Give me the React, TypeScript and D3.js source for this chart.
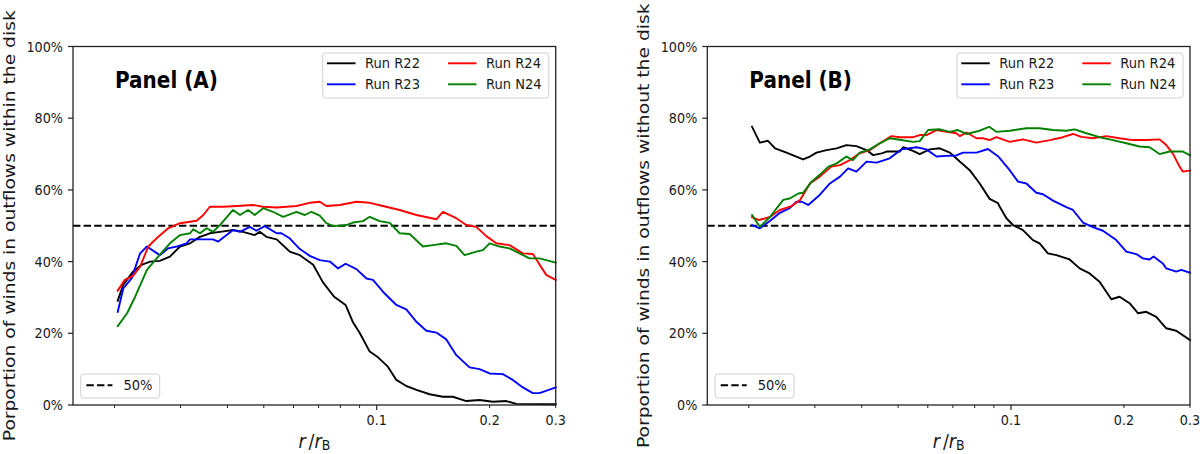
import React from 'react';
import * as d3 from 'd3';

// ---- data: share of winds in outflows, % vs r / r_B ----
const withinR22: [number, number][] = [[0.0204,29.1],[0.0211,33.5],[0.0224,37.2],[0.0236,39.1],[0.0249,40.0],[0.0264,40.2],[0.0281,41.4],[0.0299,44.2],[0.0318,45.1],[0.0338,46.9],[0.0359,47.9],[0.0382,48.3],[0.0414,48.8],[0.0440,48.3],[0.0473,47.4],[0.0488,48.3],[0.0508,46.9],[0.0541,46.2],[0.0586,42.8],[0.0624,41.8],[0.0677,39.1],[0.0719,34.2],[0.0770,30.2],[0.0826,27.9],[0.0865,23.0],[0.0901,20.1],[0.0958,14.9],[0.1008,13.3],[0.1071,10.7],[0.1128,7.0],[0.1199,5.3],[0.1276,4.2],[0.1384,3.0],[0.1501,2.3],[0.1596,2.3],[0.1733,1.1],[0.1880,1.4],[0.2040,0.9],[0.2215,1.1],[0.2355,0.3],[0.3,0.2]];
const withinR23: [number, number][] = [[0.0204,26.0],[0.0211,32.5],[0.0222,35.3],[0.0234,42.3],[0.0244,44.2],[0.0264,41.8],[0.0278,43.7],[0.0293,44.2],[0.0311,45.1],[0.0318,46.2],[0.0366,46.2],[0.0378,45.6],[0.0414,48.8],[0.0432,48.3],[0.0459,49.7],[0.0478,48.6],[0.0503,49.9],[0.0541,47.9],[0.0557,47.9],[0.0586,46.5],[0.0624,43.5],[0.0663,41.6],[0.0705,40.4],[0.0750,40.0],[0.0789,38.1],[0.0826,39.4],[0.0883,37.9],[0.0939,35.3],[0.0977,34.9],[0.1039,31.6],[0.1128,27.9],[0.1199,26.7],[0.1276,23.2],[0.1356,20.7],[0.1442,20.2],[0.1533,18.3],[0.1630,13.9],[0.1768,10.5],[0.1880,10.0],[0.1999,8.8],[0.2169,8.6],[0.2306,7.0],[0.2452,4.9],[0.2607,3.3],[0.2716,3.3],[0.3,4.9]];
const withinR24: [number, number][] = [[0.0204,31.9],[0.0213,34.9],[0.0224,36.0],[0.0234,38.6],[0.0246,44.2],[0.0259,46.5],[0.0278,49.3],[0.0299,50.7],[0.0331,51.4],[0.0345,53.0],[0.0359,55.3],[0.0390,55.3],[0.0423,55.5],[0.0468,55.8],[0.0498,55.3],[0.0541,55.1],[0.0611,55.5],[0.0663,56.4],[0.0705,56.7],[0.0734,55.5],[0.0797,55.8],[0.0883,56.7],[0.0958,56.4],[0.1039,55.5],[0.1151,54.4],[0.1276,53.0],[0.1442,51.8],[0.1501,53.9],[0.1630,52.1],[0.1733,50.2],[0.1843,49.7],[0.1959,47.1],[0.2083,45.1],[0.2260,44.6],[0.2452,42.3],[0.2607,42.1],[0.2830,36.3],[0.3,34.9]];
const withinN24: [number, number][] = [[0.0204,22.0],[0.0216,25.6],[0.0227,30.2],[0.0244,37.7],[0.0259,40.9],[0.0281,45.1],[0.0299,47.4],[0.0318,47.9],[0.0324,49.0],[0.0338,47.9],[0.0352,49.3],[0.0366,48.3],[0.0382,50.2],[0.0414,54.4],[0.0432,53.0],[0.0454,54.4],[0.0473,53.0],[0.0498,54.9],[0.0529,53.9],[0.0563,52.5],[0.0611,53.9],[0.0643,53.0],[0.0670,53.9],[0.0705,52.8],[0.0734,50.7],[0.0765,49.9],[0.0830,50.2],[0.0865,50.9],[0.0919,51.3],[0.0958,52.5],[0.1018,51.3],[0.1083,50.8],[0.1151,47.9],[0.1224,47.7],[0.1328,44.2],[0.1412,44.6],[0.1533,45.1],[0.1630,44.4],[0.1715,41.8],[0.1843,42.8],[0.1919,43.2],[0.1999,45.1],[0.2126,44.2],[0.2260,43.7],[0.2403,42.3],[0.2555,40.9],[0.2716,40.9],[0.3,39.7]];

const withoutR22: [number, number][] = [[0.0204,77.6],[0.0214,73.2],[0.0225,73.7],[0.0235,71.6],[0.0252,70.4],[0.0279,68.5],[0.0291,69.3],[0.0303,70.4],[0.0322,71.1],[0.0343,71.6],[0.0364,72.5],[0.0387,72.2],[0.0412,71.1],[0.0429,69.7],[0.0452,70.2],[0.0466,70.7],[0.0505,70.7],[0.0516,71.9],[0.0548,70.9],[0.0571,70.0],[0.0607,71.3],[0.0646,71.6],[0.0687,70.4],[0.0730,67.9],[0.0776,65.5],[0.0825,61.8],[0.0877,57.5],[0.0923,56.3],[0.0933,55.3],[0.0972,52.1],[0.1012,50.2],[0.1076,48.8],[0.1144,46.0],[0.1192,45.1],[0.1254,42.3],[0.1321,41.8],[0.1433,40.6],[0.1524,38.1],[0.1620,36.7],[0.1722,34.4],[0.1851,29.5],[0.1947,30.2],[0.2070,28.4],[0.2179,25.6],[0.2294,26.0],[0.2439,24.6],[0.2593,21.4],[0.2757,20.7],[0.3,18.1]];
const withoutR23: [number, number][] = [[0.0204,50.2],[0.0214,49.3],[0.0228,51.4],[0.0242,53.6],[0.0257,54.9],[0.0268,56.7],[0.0277,56.7],[0.0288,55.8],[0.0309,58.6],[0.0329,61.8],[0.0350,63.7],[0.0368,66.0],[0.0387,65.1],[0.0412,67.9],[0.0438,67.6],[0.0475,68.8],[0.0510,71.3],[0.0560,71.9],[0.0595,71.3],[0.0633,69.3],[0.0673,69.5],[0.0715,69.6],[0.0745,70.4],[0.0809,70.4],[0.0868,71.4],[0.0923,69.4],[0.0992,65.5],[0.1044,62.3],[0.1099,61.8],[0.1168,59.2],[0.1217,58.8],[0.1294,57.0],[0.1404,55.2],[0.1462,54.4],[0.1555,50.9],[0.1653,49.6],[0.1758,48.6],[0.1908,46.0],[0.2029,42.8],[0.2157,42.1],[0.2246,40.9],[0.2341,40.6],[0.2399,41.4],[0.2539,39.5],[0.2593,38.1],[0.2757,37.2],[0.2843,37.7],[0.3,36.9]];
const withoutR24: [number, number][] = [[0.0204,52.4],[0.0213,51.6],[0.0228,52.5],[0.0242,54.4],[0.0260,55.5],[0.0274,57.2],[0.0291,61.8],[0.0309,63.7],[0.0332,66.5],[0.0350,66.9],[0.0372,68.3],[0.0395,70.2],[0.0420,71.1],[0.0447,73.0],[0.0480,75.0],[0.0505,74.7],[0.0548,74.7],[0.0571,75.3],[0.0595,75.3],[0.0633,76.7],[0.0673,76.2],[0.0715,75.8],[0.0730,75.0],[0.0761,76.0],[0.0809,74.4],[0.0842,74.4],[0.0877,73.9],[0.0914,74.7],[0.0992,73.4],[0.1076,74.1],[0.1168,73.2],[0.1268,73.9],[0.1375,74.7],[0.1462,75.6],[0.1540,74.8],[0.1653,74.4],[0.1795,75.0],[0.1947,74.4],[0.2113,73.9],[0.2294,73.9],[0.2489,74.1],[0.2593,72.5],[0.2700,70.2],[0.2813,66.5],[0.2871,65.1],[0.3,65.4]];
const withoutN24: [number, number][] = [[0.0204,53.0],[0.0214,49.7],[0.0228,52.5],[0.0247,57.2],[0.0257,57.6],[0.0271,59.0],[0.0279,59.2],[0.0294,62.3],[0.0309,64.2],[0.0326,66.5],[0.0343,67.4],[0.0364,69.3],[0.0379,68.3],[0.0395,70.4],[0.0420,71.3],[0.0447,73.0],[0.0475,74.4],[0.0505,74.0],[0.0548,73.4],[0.0571,73.6],[0.0601,76.7],[0.0646,76.9],[0.0687,76.2],[0.0722,76.7],[0.0761,75.6],[0.0825,76.5],[0.0874,77.6],[0.0914,76.2],[0.0992,76.5],[0.1099,77.2],[0.1192,77.2],[0.1294,76.7],[0.1404,76.5],[0.1478,76.9],[0.1588,75.8],[0.1722,74.7],[0.1869,73.9],[0.2029,73.0],[0.2201,72.1],[0.2341,71.9],[0.2489,70.0],[0.2646,70.7],[0.2871,70.7],[0.3,69.7]];

const runNames = ['Run R22', 'Run R23', 'Run R24', 'Run N24'];
const runColors = ['#000000', '#0000ff', '#ff0000', '#008000'];
const threshold = 50;

const yTicks = [0, 20, 40, 60, 80, 100];
const xMajorTicks = [0.1];
const xMinorTicks = [0.02, 0.03, 0.04, 0.05, 0.06, 0.07, 0.08, 0.09, 0.2, 0.3];
const xLabelledTicks = [0.1, 0.2, 0.3];
const X_DOMAIN: [number, number] = [0.0155, 0.3];

// ---- layout ----
const W = 1200;
const H = 454;
const TOP = 46.5;
const BOTTOM = 405;
const PLOT_W = 482.7;
const STRETCH = 1.12; // vertical text stretch
const FONT = '"DejaVu Sans", sans-serif';
const INK = '#1a1a1a';

type TProps = {
  x: number; y: number; size: number; anchor?: string; weight?: string;
  rotate?: boolean; children: React.ReactNode; fill?: string;
};
const T = ({ x, y, size, anchor = 'start', weight = 'normal', rotate = false, children, fill = INK }: TProps) => (
  <text
    transform={`translate(${x},${y}) scale(1,${STRETCH})${rotate ? ' rotate(-90)' : ''}`}
    fontSize={size}
    fontFamily={FONT}
    fontWeight={weight}
    textAnchor={anchor}
    fill={fill}
  >
    {children}
  </text>
);

type PanelProps = {
  left: number;
  title: string;
  yLabel: string;
  series: [number, number][][];
};

const Panel = ({ left, title, yLabel, series }: PanelProps) => {
  const x = d3.scaleLog().domain(X_DOMAIN).range([left, left + PLOT_W]);
  const y = d3.scaleLinear().domain([0, 100]).range([BOTTOM, TOP]);
  const line = d3.line<[number, number]>().x(d => x(d[0])).y(d => y(d[1]));
  const right = left + PLOT_W;
  const dash = '7.4 3.2';

  // legend geometry (upper right)
  const lgX = left + 249.7;
  const lgY = 53;
  const rowY = [63.3, 84.3];
  const colX = [lgX + 4.3, lgX + 125.3];

  return (
    <g>
      {/* threshold line */}
      <line x1={left} x2={right} y1={y(threshold)} y2={y(threshold)} stroke="#000" strokeWidth={2} strokeDasharray={dash} />

      {/* runs */}
      {series.map((s, i) => (
        <path key={i} d={line(s) || ''} fill="none" stroke={runColors[i]} strokeWidth={1.9} strokeLinejoin="round" strokeLinecap="square" />
      ))}

      {/* frame */}
      <rect x={left} y={TOP} width={PLOT_W} height={BOTTOM - TOP} fill="none" stroke="#222" strokeWidth={1.3} />

      {/* y axis */}
      {yTicks.map(t => (
        <g key={t}>
          <line x1={left - 5} x2={left} y1={y(t)} y2={y(t)} stroke="#222" strokeWidth={1.2} />
          <T x={left - 10} y={y(t) + 5} size={12.8} anchor="end">{`${t}%`}</T>
        </g>
      ))}

      {/* x axis */}
      {xMajorTicks.map(t => (
        <line key={`M${t}`} x1={x(t)} x2={x(t)} y1={BOTTOM} y2={BOTTOM + 5} stroke="#222" strokeWidth={1.2} />
      ))}
      {xMinorTicks.map(t => (
        <line key={`m${t}`} x1={x(t)} x2={x(t)} y1={BOTTOM} y2={BOTTOM + 3} stroke="#222" strokeWidth={1} />
      ))}
      {xLabelledTicks.map(t => (
        <T key={`l${t}`} x={x(t)} y={425} size={12.8} anchor="middle">{String(t)}</T>
      ))}

      {/* axis titles */}
      <text
        transform={`translate(${(left + right) / 2},447.5) scale(1,${STRETCH})`}
        fontSize={17.5}
        fontFamily={FONT}
        textAnchor="middle"
        fill={INK}
      >
        <tspan fontStyle="italic">r</tspan>
        <tspan dx={3}>/</tspan>
        <tspan fontStyle="italic">r</tspan>
        <tspan fontSize={12.5} dy={2}>B</tspan>
      </text>
      <T x={left - 58} y={(TOP + BOTTOM) / 2} size={16.7} anchor="middle" rotate>{yLabel}</T>

      {/* panel title */}
      <T x={left + 42} y={88} size={20} weight="bold" fill="#000">{title}</T>

      {/* legend of runs */}
      <rect x={lgX} y={lgY} width={226} height={45} rx={3} fill="#fff" fillOpacity={0.8} stroke="#d0d0d0" strokeWidth={1} />
      {runNames.map((name, i) => {
        const col = Math.floor(i / 2);
        const row = i % 2;
        const lx = colX[col];
        const ly = rowY[row];
        return (
          <g key={name}>
            <line x1={lx} x2={lx + 28.5} y1={ly} y2={ly} stroke={runColors[i]} strokeWidth={1.9} />
            <T x={lx + 38} y={ly + 5} size={13.1}>{name}</T>
          </g>
        );
      })}

      {/* legend of threshold */}
      <rect x={left + 7.7} y={374} width={79} height={24} rx={3} fill="#fff" fillOpacity={0.8} stroke="#d0d0d0" strokeWidth={1} />
      <line x1={left + 13.4} x2={left + 39.4} y1={385.3} y2={385.3} stroke="#000" strokeWidth={2} strokeDasharray={dash} />
      <T x={left + 50.4} y={390.3} size={13.1}>{`${threshold}%`}</T>
    </g>
  );
};

export default function App() {
  return (
    <svg
      width={W}
      height={H}
      viewBox={`0 0 ${W} ${H}`}
      style={{ position: 'absolute', left: 0, top: 0, background: '#fff' }}
    >
      <rect width={W} height={H} fill="#fff" />
      <Panel
        left={73}
        title="Panel (A)"
        yLabel="Porportion of winds in outflows within the disk"
        series={[withinR22, withinR23, withinR24, withinN24]}
      />
      <Panel
        left={707.3}
        title="Panel (B)"
        yLabel="Porportion of winds in outflows without the disk"
        series={[withoutR22, withoutR23, withoutR24, withoutN24]}
      />
    </svg>
  );
}
